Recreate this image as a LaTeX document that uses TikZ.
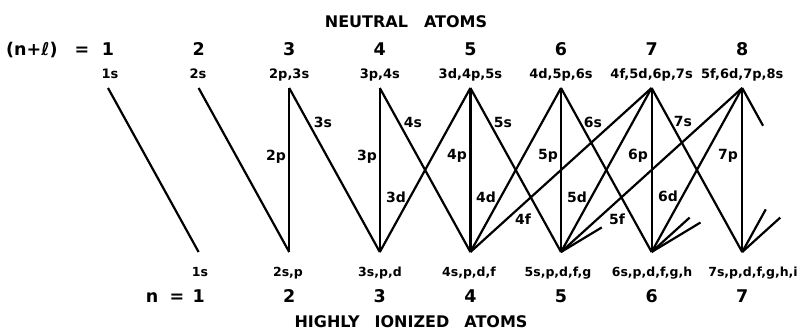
\documentclass[tikz,border=0pt]{standalone}
\usepackage{fontspec}
\setmainfont{DejaVu Sans}[BoldFont={DejaVu Sans Bold}]
\usetikzlibrary{calc}
\begin{document}
\begin{tikzpicture}[x=1pt,y=-1pt,
  orb/.style={line width=2.2pt},
  lbl/.style={font=\bfseries\fontsize{14}{14}\selectfont, inner sep=0pt},
  toplbl/.style={font=\bfseries\fontsize{13}{13}\selectfont, anchor=base, inner sep=0pt},
  botlbl/.style={font=\bfseries\fontsize{12.5}{12.5}\selectfont, anchor=base, inner sep=0pt},
  num/.style={font=\bfseries\fontsize{17.5}{17.5}\selectfont, anchor=base, inner sep=0pt},
  ttl/.style={font=\bfseries\fontsize{16}{16}\selectfont, anchor=base, inner sep=0pt}]
\useasboundingbox (0,0) rectangle (805,330);
% apex coordinates
\foreach \k in {1,...,10} \coordinate (t\k) at ({108+90.6*(\k-1)},88);
\foreach \n in {1,...,8} \coordinate (b\n) at ({108+90.6*\n},252);
% titles
\node[ttl] (neutral) at (406,27) {NEUTRAL\hspace{16pt}ATOMS};
\node[ttl] (ionized) at (411,327) {HIGHLY\hspace{15pt}IONIZED\hspace{15pt}ATOMS};
% n+l row
\node[num, anchor=base west] (nl) at (6,55) {(n+ℓ)};
\node[num] (nleq) at (82,55) {=};
\foreach \k in {1,...,8} \node[num] (N\k) at ($(t\k)+(0,-33)$) {\k};
% top labels
\node[toplbl] (T1) at (110,78) {1s};
\node[toplbl] (T2) at (198,78) {2s};
\node[toplbl] (T3) at ($(t3)+(0,-10)$) {2p,3s};
\node[toplbl] (T4) at ($(t4)+(0,-10)$) {3p,4s};
\node[toplbl] (T5) at ($(t5)+(0,-10)$) {3d,4p,5s};
\node[toplbl] (T6) at ($(t6)+(0,-10)$) {4d,5p,6s};
\node[toplbl] (T7) at ($(t7)+(0,-10)$) {4f,5d,6p,7s};
\node[toplbl] (T8) at ($(t8)+(0,-10)$) {5f,6d,7p,8s};
% bottom labels
\node[botlbl] (B1) at (200,276) {1s};
\node[botlbl] (B2) at (288,276) {2s,p};
\node[botlbl] (B3) at (380,276) {3s,p,d};
\node[botlbl] (B4) at (469,276) {4s,p,d,f};
\node[botlbl] (B5) at (558,276) {5s,p,d,f,g};
\node[botlbl] (B6) at (652,276) {6s,p,d,f,g,h};
\node[botlbl] (B7) at (753,276) {7s,p,d,f,g,h,i};
% n row
\node[num] (nn) at (152,302) {n};
\node[num] (neq) at (177,302) {=};
\foreach \n in {1,...,7} \node[num] (M\n) at ($(b\n)+(0,50)$) {\n};
% full lines: (n,l) from t_{n+l} to b_n
\foreach \n/\l in {1/0, 2/0,2/1, 3/0,3/1,3/2, 4/0,4/1,4/2,4/3,
                   5/0,5/1,5/2,5/3, 6/0,6/1,6/2, 7/0,7/1}{
  \pgfmathtruncatemacro{\k}{\n+\l}
  \draw[orb] (t\k) -- (b\n);
}
% stubs
\draw[orb] (b5) -- ($(b5)!0.15!(t9)$);
\draw[orb] (b6) -- ($(b6)!0.21!(t9)$);
\draw[orb] (b6) -- ($(b6)!0.18!(t10)$);
\draw[orb] (b7) -- ($(b7)!0.26!(t9)$);
\draw[orb] (b7) -- ($(b7)!0.21!(t10)$);
\draw[orb] (t8) -- ($(t8)!0.23!(b8)$);
% line labels
\node[lbl] (l3s) at (323,122) {3s};
\node[lbl] (l4s) at (413,122) {4s};
\node[lbl] (l5s) at (503,122) {5s};
\node[lbl] (l6s) at (593,122) {6s};
\node[lbl] (l7s) at (683,121) {7s};
\node[lbl] (l2p) at (276,157) {2p};
\node[lbl] (l3p) at (367,157) {3p};
\node[lbl] (l4p) at (457,156) {4p};
\node[lbl] (l5p) at (548,156) {5p};
\node[lbl] (l6p) at (638,156) {6p};
\node[lbl] (l7p) at (728,156) {7p};
\node[lbl] (l3d) at (396,197) {3d};
\node[lbl] (l4d) at (486,197) {4d};
\node[lbl] (l5d) at (577,197) {5d};
\node[lbl] (l6d) at (668,196) {6d};
\node[lbl] (l4f) at (523,219) {4f};
\node[lbl] (l5f) at (617,219) {5f};
\end{tikzpicture}
\end{document}
